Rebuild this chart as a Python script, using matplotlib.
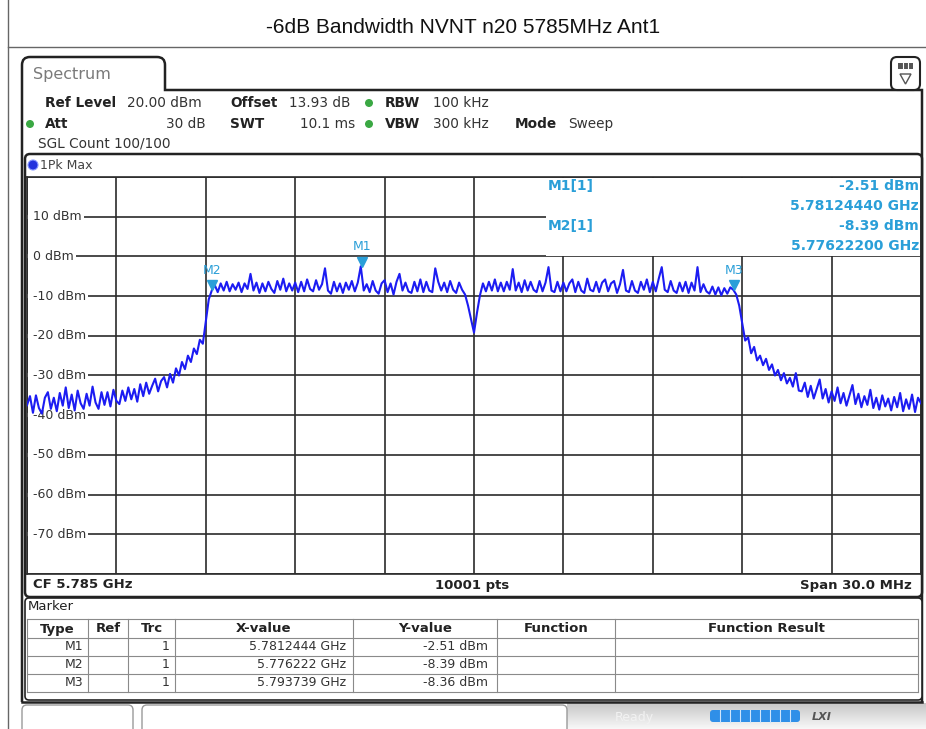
import matplotlib
matplotlib.use("Agg")
import matplotlib.pyplot as plt
import numpy as np
from matplotlib import patches, transforms
from matplotlib.path import Path

W, H = 926, 729

title = "-6dB Bandwidth NVNT n20 5785MHz Ant1"

sweep_start_ghz = 5.770
sweep_stop_ghz = 5.800
ref_level_dbm = 20
bottom_level_dbm = -80

# 1Pk Max trace, one value per 100 kHz from 5.770 to 5.800 GHz
trace_dbm = [
    -37.5, -35.2, -39.4, -35.0, -38.2, -39.6, -35.6, -34.2, -38.4, -35.6,
    -39.0, -34.4, -37.6, -33.0, -38.2, -34.8, -38.8, -33.8, -37.0, -38.4,
    -34.6, -37.6, -32.8, -36.8, -38.4, -34.2, -37.4, -34.2, -37.8, -33.6,
    -36.4, -37.2, -33.8, -36.4, -33.0, -36.0, -33.4, -36.6, -32.2, -35.2,
    -31.8, -34.6, -32.6, -30.8, -34.0, -31.4, -30.4, -33.0, -29.6, -31.8,
    -28.2, -30.0, -26.6, -28.4, -25.0, -26.6, -23.2, -24.6, -21.0, -22.0,
    -16.5, -10.8, -8.6, -7.2, -9.0, -6.8, -8.6, -6.4, -8.8, -7.0,
    -8.4, -6.6, -9.0, -6.8, -8.2, -4.4, -8.6, -6.6, -9.2, -6.8,
    -8.8, -6.4, -8.2, -9.2, -6.2, -8.4, -5.6, -8.8, -6.8, -8.6,
    -6.6, -9.0, -6.4, -8.8, -5.8, -8.2, -8.8, -6.0, -8.4, -7.0,
    -3.0, -8.6, -9.4, -6.4, -8.8, -6.8, -9.2, -6.6, -8.4, -6.2,
    -8.8, -6.6, -2.5, -8.6, -7.0, -9.0, -6.2, -8.6, -9.4, -6.8,
    -6.0, -9.0, -6.8, -9.6, -6.4, -4.4, -8.6, -6.6, -8.8, -9.2,
    -6.4, -8.8, -5.8, -9.0, -6.4, -8.6, -9.0, -3.0, -6.4, -8.6,
    -6.6, -9.0, -6.2, -8.4, -9.2, -6.6, -8.4, -9.6, -12.4, -15.8,
    -19.2, -14.2, -9.8, -6.8, -8.8, -6.4, -8.6, -5.8, -8.8, -6.6,
    -8.8, -6.4, -8.4, -3.2, -8.6, -6.6, -9.0, -6.0, -8.6, -6.4,
    -8.4, -9.0, -6.2, -8.8, -6.6, -2.7, -8.6, -9.0, -6.4, -8.8,
    -6.6, -8.8, -6.8, -5.8, -9.0, -6.4, -8.6, -9.2, -5.6, -8.4,
    -8.8, -6.4, -9.0, -6.6, -5.8, -8.8, -6.8, -6.2, -9.2, -7.0,
    -3.4, -8.6, -9.0, -6.2, -8.6, -9.2, -6.4, -8.4, -5.8, -9.0,
    -6.4, -8.8, -5.6, -2.7, -8.4, -9.0, -6.2, -8.6, -9.2, -6.6,
    -8.8, -6.4, -9.2, -6.6, -8.6, -2.7, -9.0, -7.0, -8.8, -9.4,
    -7.6, -9.6, -7.8, -9.8, -8.0, -9.4, -7.8, -8.4, -9.6, -12.4,
    -16.8, -21.2, -20.4, -24.4, -22.8, -26.2, -25.0, -27.4, -25.8, -28.6,
    -27.2, -30.0, -28.6, -31.2, -29.4, -32.0, -30.6, -32.8, -29.4, -33.8,
    -34.0, -31.8, -35.4, -32.6, -35.8, -33.4, -31.0, -35.8, -33.4, -36.8,
    -34.0, -36.4, -33.0, -37.0, -34.4, -37.6, -35.0, -32.4, -37.2, -34.6,
    -38.0, -35.2, -37.4, -33.6, -38.2, -35.6, -38.6, -35.0, -37.8, -35.8,
    -38.8, -35.4, -38.0, -34.4, -39.0, -36.0, -38.4, -34.8, -39.2, -35.6,
    -37.0,
]

marker_names = ["M1", "M2", "M3"]
marker_freq_ghz = [5.7812444, 5.776222, 5.793739]
marker_level_dbm = [-2.51, -8.39, -8.36]
marker_x_labels = ["5.7812444 GHz", "5.776222 GHz", "5.793739 GHz"]

level_ticks = [10, 0, -10, -20, -30, -40, -50, -60, -70]

table_columns = ["Type", "Ref", "Trc", "X-value", "Y-value", "Function", "Function Result"]
table_edges = [27, 88, 128, 175, 353, 497, 615, 918]

TRACE_BLUE = "#1c1cf2"
MARKER_CYAN = "#2a9fd8"
GRID = "#2b2b2b"
DARK = "#222222"
GREEN = "#3aa843"

plt.rcParams["font.family"] = ["DejaVu Sans"]

fig = plt.figure(figsize=(W / 100, H / 100), dpi=100)
fig.patch.set_facecolor("white")


def overlay(z):
    a = fig.add_axes([0, 0, 1, 1], zorder=z)
    a.set_xlim(0, W)
    a.set_ylim(H, 0)
    a.axis("off")
    a.patch.set_alpha(0)
    return a


bg = overlay(0)

# title band
bg.text(W / 2, 27, title, ha="center", va="center", fontsize=15,
        family="Liberation Sans", color="#111111")
bg.plot([8, W], [47, 47], color="#666666", lw=1.0)
bg.plot([8, 8], [0, H], color="#666666", lw=1.0)

# screen outline with the Spectrum tab
r = 8
verts = [(22, 702), (22, 57 + r), (22, 57), (22 + r, 57), (165 - r, 57), (165, 57),
         (165, 57 + r), (165, 90), (922, 90), (922, 702)]
codes = [Path.MOVETO, Path.LINETO, Path.CURVE3, Path.CURVE3, Path.LINETO, Path.CURVE3,
         Path.CURVE3, Path.LINETO, Path.LINETO, Path.LINETO]
bg.add_patch(patches.PathPatch(Path(verts, codes), fc="none", ec=DARK, lw=1.8))
bg.text(33, 74, "Spectrum", ha="left", va="center", fontsize=11.5, color="#7a7a7a")

# menu icon at the right of the tab row
bg.add_patch(patches.FancyBboxPatch((891, 57), 29, 33, boxstyle="round,pad=0,rounding_size=6",
                                    fc="white", ec=DARK, lw=1.5))
bg.add_patch(patches.Rectangle((898, 63), 15, 6, fc="#555555", ec="none"))
for xx in (903, 908):
    bg.plot([xx, xx], [63, 69], color="white", lw=0.8)
bg.add_patch(patches.Polygon([(900, 74), (911, 74), (905.5, 84)], closed=True,
                             fc="white", ec="#555555", lw=1.0))

# setup header
hdr = dict(va="center", fontsize=9.8, color="#333333")
bold = dict(va="center", fontsize=9.8, color=DARK, weight="bold")
bg.text(45, 103, "Ref Level", **bold)
bg.text(127, 103, "20.00 dBm", **hdr)
bg.text(230, 103, "Offset", **bold)
bg.text(289, 103, "13.93 dB", **hdr)
bg.text(385, 103, "RBW", **bold)
bg.text(433, 103, "100 kHz", **hdr)
bg.text(45, 124, "Att", **bold)
bg.text(206, 124, "30 dB", ha="right", **hdr)
bg.text(230, 124, "SWT", **bold)
bg.text(355, 124, "10.1 ms", ha="right", **hdr)
bg.text(385, 124, "VBW", **bold)
bg.text(433, 124, "300 kHz", **hdr)
bg.text(515, 124, "Mode", **bold)
bg.text(568, 124, "Sweep", **hdr)
bg.text(38, 143, "SGL Count 100/100", **hdr)
for cx, cy in [(369, 103), (30, 124), (369, 124)]:
    bg.add_patch(patches.Circle((cx, cy), 4, fc=GREEN, ec="none"))

# diagram box
bg.add_patch(patches.FancyBboxPatch((25, 154), 897, 443, boxstyle="round,pad=0,rounding_size=5",
                                    fc="white", ec=DARK, lw=1.8))
bg.add_patch(patches.Circle((33, 165), 5, fc="#2233dd", ec="#8899ff", lw=0.8))
bg.text(40, 165, "1Pk Max", va="center", fontsize=9, color="#444444")
bg.text(33, 585, "CF 5.785 GHz", va="center", fontsize=9.5, weight="bold", color=DARK)
bg.text(472, 585, "10001 pts", ha="center", va="center", fontsize=9.5, weight="bold", color=DARK)
bg.text(912, 585, "Span 30.0 MHz", ha="right", va="center", fontsize=9.5, weight="bold", color=DARK)

# marker table
bg.add_patch(patches.FancyBboxPatch((25, 598), 897, 102, boxstyle="round,pad=0,rounding_size=4",
                                    fc="white", ec=DARK, lw=1.2))
bg.text(28, 607, "Marker", va="center", fontsize=9.5, color=DARK)
row_edges = [619, 638, 656, 674, 692]
for yy in row_edges:
    bg.plot([table_edges[0], table_edges[-1]], [yy, yy], color="#8a8a8a", lw=0.8)
for xx in table_edges:
    bg.plot([xx, xx], [row_edges[0], row_edges[-1]], color="#8a8a8a", lw=0.8)
for name, x0, x1 in zip(table_columns, table_edges[:-1], table_edges[1:]):
    bg.text((x0 + x1) / 2, 629, name, ha="center", va="center", fontsize=9.5,
            weight="bold", color=DARK)
for i, name in enumerate(marker_names):
    yy = (row_edges[i + 1] + row_edges[i + 2]) / 2
    cell = dict(ha="right", va="center", fontsize=9, color="#333333")
    bg.text(table_edges[1] - 5, yy, name, **cell)
    bg.text(table_edges[3] - 5, yy, "1", **cell)
    bg.text(table_edges[4] - 7, yy, marker_x_labels[i], **cell)
    bg.text(table_edges[5] - 9, yy, f"{marker_level_dbm[i]:.2f} dBm", **cell)

# status bar
grad = np.linspace(0.78, 0.97, 32).reshape(-1, 1)
bg.imshow(grad, cmap="gray", vmin=0, vmax=1, extent=(567, W, H, 703), aspect="auto", zorder=0.5)
bg.add_patch(patches.FancyBboxPatch((22, 705), 111, 30, boxstyle="round,pad=0,rounding_size=5",
                                    fc="white", ec="#9a9a9a", lw=1.0))
bg.add_patch(patches.FancyBboxPatch((142, 705), 425, 30, boxstyle="round,pad=0,rounding_size=5",
                                    fc="white", ec="#9a9a9a", lw=1.0))
bg.text(615, 717, "Ready", va="center", fontsize=9, color="#f2f2f2")
bg.add_patch(patches.FancyBboxPatch((710, 710), 90, 12, boxstyle="round,pad=0,rounding_size=3",
                                    fc="#2f8fe8", ec="none", zorder=2))
for xx in np.arange(720, 800, 10):
    bg.plot([xx, xx], [710, 722], color="#cfe4fb", lw=0.8, zorder=3)
bg.text(812, 717, "LXI", va="center", fontsize=8, weight="bold", style="italic", color="#555555")
bg.plot([22, 922], [702, 702], color=DARK, lw=1.8)

# spectrum diagram
gx0, gx1, gy0, gy1 = 27, 921, 177, 574
ax = fig.add_axes([gx0 / W, (H - gy1) / H, (gx1 - gx0) / W, (gy1 - gy0) / H], zorder=1)
ax.patch.set_alpha(0)
ax.set_xlim(sweep_start_ghz, sweep_stop_ghz)
ax.set_ylim(bottom_level_dbm, ref_level_dbm)
ax.set_xticks(np.linspace(sweep_start_ghz, sweep_stop_ghz, 11))
ax.set_yticks(np.arange(bottom_level_dbm, ref_level_dbm + 1, 10))
ax.tick_params(length=0, labelbottom=False, labelleft=False)
ax.grid(True, color=GRID, lw=1.2)
ax.set_axisbelow(True)
for s in ax.spines.values():
    s.set_color(GRID)
    s.set_linewidth(1.2)

lvl_tf = transforms.blended_transform_factory(ax.transAxes, ax.transData)
for v in level_ticks:
    # blank the start of the level line under its label
    ax.plot([0.0015, 0.012], [v, v], color="white", lw=3, transform=lvl_tf, zorder=1.5)
    ax.text(0.007, v, f"{v} dBm", transform=lvl_tf, ha="left", va="center", fontsize=9,
            color="#333333", zorder=2,
            bbox=dict(fc="white", ec="none", pad=1.2))

freq_ghz = np.linspace(sweep_start_ghz, sweep_stop_ghz, len(trace_dbm))
ax.plot(freq_ghz, trace_dbm, color=TRACE_BLUE, lw=1.5, zorder=3)

tri_tf = transforms.offset_copy(ax.transData, fig=fig, x=0, y=3.3, units="points")
for name, f, v in zip(marker_names, marker_freq_ghz, marker_level_dbm):
    ax.plot([f], [v], marker="v", ms=7, color=MARKER_CYAN, mec=MARKER_CYAN,
            transform=tri_tf, zorder=4, clip_on=False)
    ax.annotate(name, (f, v), xytext=(0, 14), textcoords="offset points", ha="center",
                va="center", fontsize=9, color=MARKER_CYAN, zorder=4)

# marker readout panel
fg = overlay(2)
fg.add_patch(patches.Rectangle((546, 178), 374, 78, fc="white", ec="none"))
ro = dict(va="center", fontsize=10, weight="bold", color=MARKER_CYAN)
fg.text(548, 186, "M1[1]", **ro)
fg.text(548, 226, "M2[1]", **ro)
fg.text(919, 186, f"{marker_level_dbm[0]:.2f} dBm", ha="right", **ro)
fg.text(919, 206, f"{marker_freq_ghz[0]:.8f} GHz", ha="right", **ro)
fg.text(919, 226, f"{marker_level_dbm[1]:.2f} dBm", ha="right", **ro)
fg.text(919, 246, f"{marker_freq_ghz[1]:.8f} GHz", ha="right", **ro)

fig.savefig("out.png", dpi=100)
